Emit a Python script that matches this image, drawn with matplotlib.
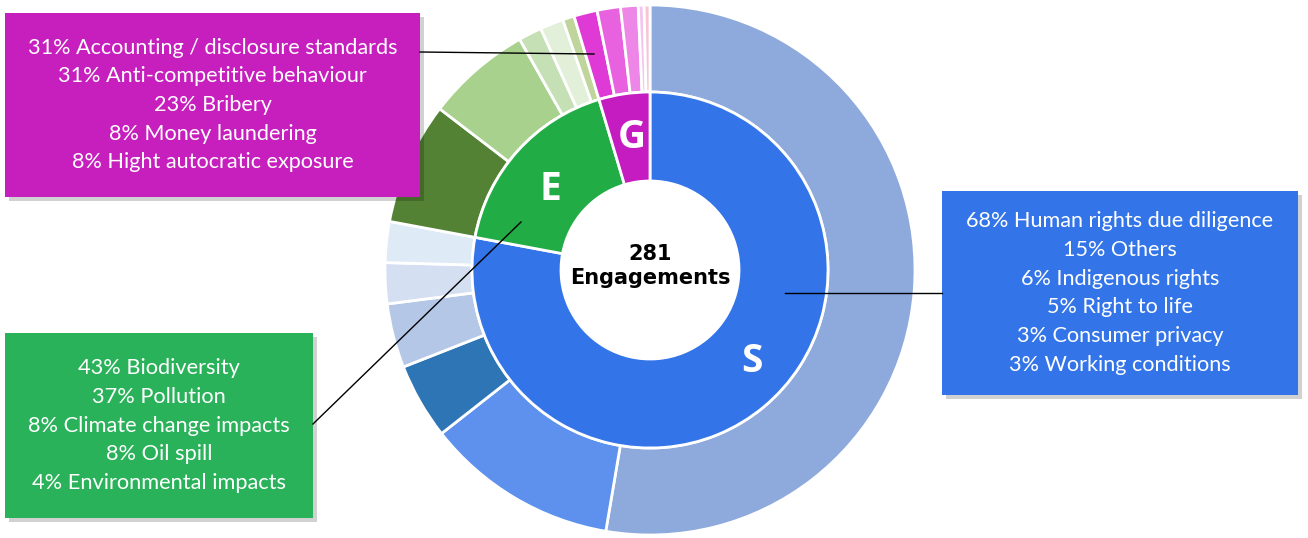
import numpy as np
import matplotlib.pyplot as plt
from matplotlib.patches import Rectangle

# ---- data ----
pillars = ["S", "E", "G"]
pillar_counts = [219, 49, 13]
pillar_colors = ["#3374e9", "#22ac45", "#c41cc0"]

s_topics = ["Human rights due diligence", "Others", "Indigenous rights",
            "Right to life", "Consumer privacy", "Working conditions"]
s_counts = [148, 33, 13, 11, 7, 7]
s_pcts = [68, 15, 6, 5, 3, 3]
s_colors = ["#8eaadc", "#5d91ed", "#2e75b6", "#b4c7e7", "#d5dff2", "#deebf7"]

e_topics = ["Biodiversity", "Pollution", "Climate change impacts",
            "Oil spill", "Environmental impacts"]
e_counts = [21, 18, 4, 4, 2]
e_pcts = [43, 37, 8, 8, 4]
e_colors = ["#548235", "#a9d18e", "#c5e0b4", "#e2f0d9", "#bfd59c"]

g_topics = ["Accounting / disclosure standards", "Anti-competitive behaviour",
            "Bribery", "Money laundering", "Hight autocratic exposure"]
g_counts = [4, 4, 3, 1, 1]
g_pcts = [31, 31, 23, 8, 8]
g_colors = ["#e03ad6", "#e862e0", "#ee86e8", "#f3c6f1", "#f6c6d2"]

W, H = 1308, 538
fig = plt.figure(figsize=(W / 100, H / 100), dpi=100)
ax = fig.add_axes([0, 0, 1, 1])

cx, cy = 650, H - 270
r_out, r_mid, r_in = 265, 178, 89

outer_vals = s_counts + e_counts + g_counts
outer_cols = s_colors + e_colors + g_colors
ax.pie(outer_vals, radius=r_out, center=(cx, cy), startangle=90, counterclock=False,
       colors=outer_cols, wedgeprops=dict(width=r_out - r_mid, edgecolor="white", linewidth=2))
ax.pie(pillar_counts, radius=r_mid, center=(cx, cy), startangle=90, counterclock=False,
       colors=pillar_colors, wedgeprops=dict(width=r_mid - r_in, edgecolor="white", linewidth=2))

# pillar letters (pixel positions, from top-left)
letter_pos = {"S": (752, 362), "E": (550, 189), "G": (632, 137)}
for p in pillars:
    x, y = letter_pos[p]
    ax.text(x, H - y, p, color="white", fontsize=28, fontweight="bold",
            ha="center", va="center", family="Open Sans")

ax.text(cx, H - 266, "281\nEngagements", ha="center", va="center", fontsize=15,
        fontweight="bold", linespacing=1.3, family="DejaVu Sans")


def label_box(x0, y0, x1, y1, color, lines, pcts, line_gap, fs):
    # pixel coords from top-left
    ax.add_patch(Rectangle((x0 + 4, H - y1 - 4), x1 - x0, y1 - y0, color="#000000",
                           alpha=0.18, lw=0, zorder=4))
    ax.add_patch(Rectangle((x0, H - y1), x1 - x0, y1 - y0, color=color, lw=0, zorder=5))
    n = len(lines)
    yc = (y0 + y1) / 2
    for k, (t, p) in enumerate(zip(lines, pcts)):
        yy = yc + (k - (n - 1) / 2) * line_gap
        ax.text((x0 + x1) / 2, H - yy, f"{p}% {t}", color="white", fontsize=fs,
                ha="center", va="center", zorder=6, family="Lato")


label_box(5, 13, 420, 197, "#c71fbe", g_topics, g_pcts, 28.5, 15.6)
label_box(5, 333, 313, 518, "#29b25a", e_topics, e_pcts, 28.7, 15.7)
label_box(942, 191, 1298, 395, "#3375e8", s_topics, s_pcts, 28.8, 15.6)

# leader lines
ax.plot([420, 594], [H - 52, H - 54], color="black", lw=1, zorder=7)
ax.plot([313, 521], [H - 424, H - 222], color="black", lw=1, zorder=7)
ax.plot([785, 942], [H - 293, H - 293], color="black", lw=1, zorder=7)

ax.set_xlim(0, W)
ax.set_ylim(0, H)
ax.set_aspect("equal")
ax.axis("off")

fig.savefig("out.png", dpi=100)
